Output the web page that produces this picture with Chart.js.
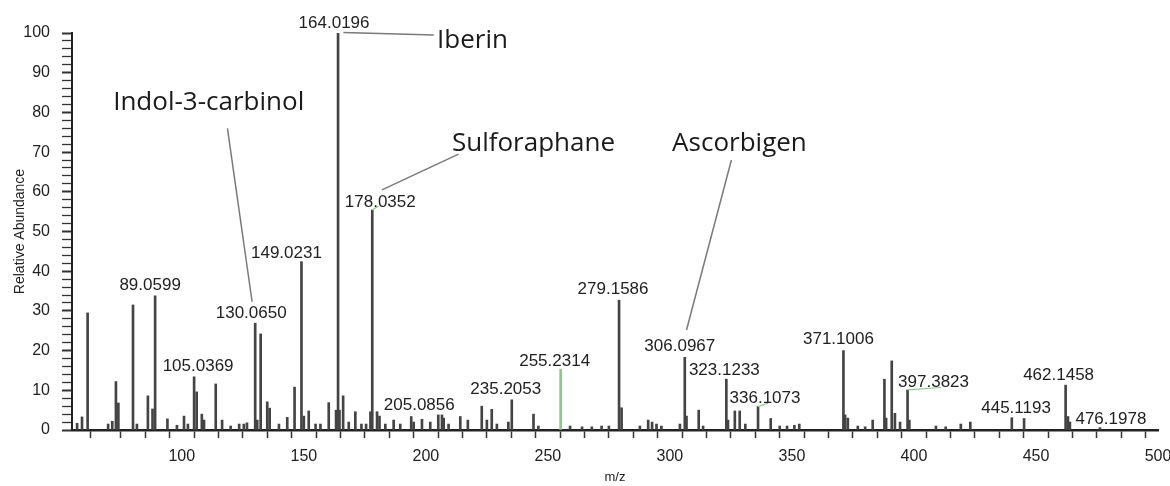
<!DOCTYPE html>
<html>
<head>
<meta charset="utf-8">
<script src="https://cdn.jsdelivr.net/npm/chart.js@4/dist/chart.umd.min.js"></script>
<style>
  body { margin: 0; background: #fff; }
  #wrap { width: 1170px; height: 486px; }
</style>
</head>
<body>
<div id="wrap"><canvas id="graph"></canvas></div>
<script>
// peak list (m/z, relative abundance)
const mz = [
  57.1, 59.1, 61.4, 69.8, 71.5, 73.0, 74.0, 80.0, 81.6, 86.1, 88.0, 89.0599,
  94.1, 98.0, 100.9, 102.5, 105.0369, 106.1, 108.2, 109.1, 113.9, 116.5, 120.0,
  123.5, 125.4, 126.7, 130.0650, 130.9, 132.3, 135.0, 136.0, 139.8, 143.2, 146.2,
  149.0231, 150.0, 152.0, 154.8, 156.8, 160.2, 163.2, 164.0196, 164.6, 166.1,
  168.4, 171.1, 173.6, 175.5, 177.3, 178.0352, 180.0, 181.0, 183.4, 186.8, 189.5,
  194.0, 195.0, 198.4, 201.8, 205.0856, 206.6, 207.3, 209.3, 214.1, 217.2, 222.9,
  225.0, 227.0, 229.1, 233.8, 235.2053, 244.1, 246.1, 255.2314, 259.1, 264.0,
  268.0, 272.0, 275.0, 279.1586, 280.2, 287.7, 291.1, 292.7, 294.5, 296.5, 304.1,
  306.0967, 306.8, 311.8, 313.6, 323.1233, 323.8, 326.6, 328.6, 330.9, 336.1073,
  341.3, 345.0, 348.0, 351.0, 353.0, 371.1006, 371.8, 372.9, 377.0, 380.0, 383.1,
  387.9, 388.6, 390.9, 392.2, 394.3, 397.3823, 398.1, 409.0, 413.0, 419.2, 423.1,
  440.1, 445.1193, 462.1458, 463.1, 463.9, 476.1978
];
const abundance = [
  1.7, 3.3, 29.5, 1.5, 2.2, 12.2, 6.8, 31.5, 1.5, 8.6, 5.3, 33.8,
  2.8, 1.2, 3.5, 1.5, 13.4, 9.6, 4.0, 2.5, 11.6, 2.5, 1.0,
  1.5, 1.5, 1.8, 26.9, 2.5, 24.2, 7.1, 5.5, 1.5, 3.2, 10.8,
  42.4, 3.5, 4.8, 1.5, 1.5, 6.9, 5.0, 100, 5.0, 8.6,
  2.0, 4.6, 1.5, 1.5, 4.6, 55.4, 4.6, 3.5, 1.5, 2.5, 1.5,
  3.4, 2.0, 2.7, 2.0, 3.8, 3.8, 3.0, 1.5, 3.4, 2.5, 6.0,
  2.5, 5.2, 1.5, 2.0, 7.6, 4.0, 1.0, 15.3, 1.0, 0.8,
  0.8, 1.0, 1.0, 32.7, 5.6, 1.0, 2.5, 2.0, 1.5, 1.0, 1.5,
  18.3, 3.5, 5.0, 1.0, 12.8, 2.5, 4.8, 4.8, 1.5, 5.9,
  2.9, 1.0, 1.0, 1.2, 1.5, 20.0, 3.8, 3.0, 1.0, 0.8, 2.5,
  12.8, 3.0, 17.4, 4.2, 2.0, 10.1, 2.5, 1.0, 0.8, 1.5, 2.0,
  3.1, 2.9, 11.3, 3.4, 2.0, 0.6
];
const greenPeaks = [255.2314];

// labelled peaks and the offset of each label from its peak top (px)
const labelMz = [89.0599, 105.0369, 130.0650, 149.0231, 164.0196, 178.0352, 205.0856,
  235.2053, 255.2314, 279.1586, 306.0967, 323.1233, 336.1073, 371.1006, 397.3823,
  445.1193, 462.1458, 476.1978];
const labelShift = [[-5, -11], [4, -10], [-4, -10], [-15, -8], [-4, -10], [8, -8], [-19, -10],
  [-6, -11], [-6, -8], [-6, -11], [-5, -11], [-2, -9], [7, -8], [-5, -11], [26, -8],
  [-8, -10], [-7, -10], [11, -8]];

// compound names, placed in data coordinates, with leader lines
const compounds = ['Iberin', 'Indol-3-carbinol', 'Sulforaphane', 'Ascorbigen'];
const compoundAt = [[219.1, 98.0], [111.0, 82.4], [244.1, 72.2], [328.5, 72.2]];
const leaders = [[166.2, 100.1, 203.2, 99.5], [118.7, 76.0, 128.8, 32.3],
  [213.4, 69.5, 182.0, 60.5], [325.2, 68.0, 306.8, 25.2]];
const greenLeaders = [[178.0352, 55.4, 180.6, 56.4], [336.1073, 5.9, 340.3, 6.8], [397.3823, 10.1, 411.0, 10.7]];

const peakColor = '#444';
const green = '#8cc98c';

const annotate = {
  id: 'annotate',
  afterDatasetsDraw(chart) {
    const ctx = chart.ctx, x = chart.scales.x, y = chart.scales.y;
    ctx.save();
    // green connectors
    ctx.strokeStyle = green;
    ctx.lineWidth = 1.2;
    greenLeaders.forEach(l => {
      ctx.beginPath();
      ctx.moveTo(x.getPixelForValue(l[0]), y.getPixelForValue(l[1]));
      ctx.lineTo(x.getPixelForValue(l[2]), y.getPixelForValue(l[3]));
      ctx.stroke();
    });
    // grey leader lines
    ctx.strokeStyle = '#7a7a7a';
    ctx.lineWidth = 1.5;
    leaders.forEach(l => {
      ctx.beginPath();
      ctx.moveTo(x.getPixelForValue(l[0]), y.getPixelForValue(l[1]));
      ctx.lineTo(x.getPixelForValue(l[2]), y.getPixelForValue(l[3]));
      ctx.stroke();
    });
    // peak labels
    ctx.fillStyle = '#222';
    ctx.font = '17px "Liberation Sans", Arial, sans-serif';
    ctx.textAlign = 'center';
    ctx.textBaseline = 'middle';
    labelMz.forEach((m, i) => {
      const k = mz.indexOf(m);
      const px = x.getPixelForValue(m) + labelShift[i][0];
      const py = y.getPixelForValue(abundance[k]) + labelShift[i][1];
      ctx.fillText(m.toFixed(4), px, py);
    });
    // compound names
    ctx.font = '26px "Open Sans", sans-serif';
    ctx.fillStyle = '#1a1a1a';
    compounds.forEach((c, i) => {
      ctx.fillText(c, x.getPixelForValue(compoundAt[i][0]), y.getPixelForValue(compoundAt[i][1]));
    });
    ctx.restore();
  }
};

new Chart(document.querySelector('#graph'), {
  type: 'bar',
  data: {
    datasets: [{
      data: mz.map((m, i) => ({ x: m, y: abundance[i] })),
      backgroundColor: ctx => greenPeaks.includes(mz[ctx.dataIndex]) ? green : peakColor,
      barThickness: 2,
      borderWidth: 0,
      grouped: false
    }]
  },
  options: {
    responsive: true,
    maintainAspectRatio: false,
    animation: false,
    layout: { padding: { top: 33, right: 0, left: 0, bottom: 0 } },
    plugins: { legend: { display: false }, tooltip: { enabled: false } },
    scales: {
      x: {
        type: 'linear',
        min: 55,
        max: 500,
        offset: false,
        afterFit: s => { s.height = 56; s.paddingRight = 12; s.paddingLeft = 0; },
        border: { color: '#222', width: 2.5 },
        grid: { drawOnChartArea: false, drawTicks: true, tickLength: 8, color: '#333', tickWidth: 1.5 },
        ticks: {
          stepSize: 10,
          autoSkip: false,
          maxRotation: 0,
          padding: 9,
          color: '#222',
          font: { family: '"Liberation Sans", Arial, sans-serif', size: 16 },
          callback: v => v % 50 === 0 ? v : ''
        },
        title: {
          display: true,
          text: 'm/z',
          color: '#222',
          padding: { top: 0, bottom: 1 },
          font: { family: '"Liberation Sans", Arial, sans-serif', size: 13 }
        }
      },
      y: {
        min: 0,
        max: 100,
        afterFit: s => { s.width = 72; },
        border: { color: '#222', width: 2 },
        grid: {
          drawOnChartArea: false, drawTicks: true, tickLength: 10, color: '#333',
          tickWidth: c => c.tick && c.tick.value % 10 === 0 ? 2 : 1.3
        },
        ticks: {
          stepSize: 2,
          autoSkip: false,
          padding: 12,
          color: '#222',
          font: { family: '"Liberation Sans", Arial, sans-serif', size: 16 },
          callback: v => v % 10 === 0 ? v : ''
        },
        title: {
          display: true,
          text: 'Relative Abundance',
          color: '#222',
          padding: { top: 12, bottom: 0 },
          font: { family: '"Liberation Sans", Arial, sans-serif', size: 14 }
        }
      }
    }
  },
  plugins: [annotate]
});
</script>
</body>
</html>
